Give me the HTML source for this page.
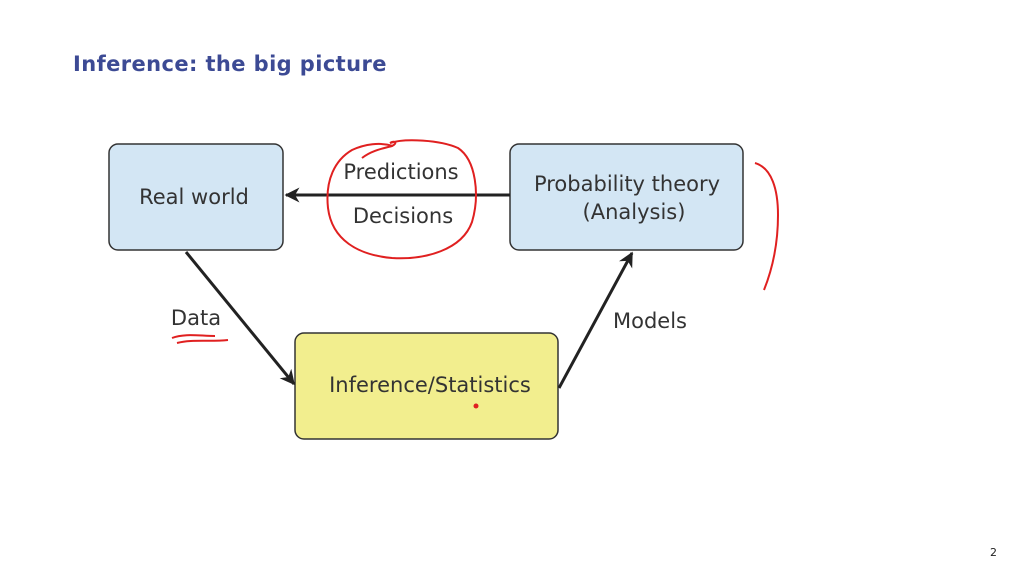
<!DOCTYPE html>
<html><head><meta charset="utf-8"><style>
html,body{margin:0;padding:0;background:#fff;}
svg{display:block;}
text{font-family:"DejaVu Sans","Liberation Sans",sans-serif;}
</style></head><body>
<svg width="1024" height="576" viewBox="0 0 1024 576" xmlns="http://www.w3.org/2000/svg">
<defs>
<marker id="ah" viewBox="0 0 10 10" refX="9" refY="5" markerWidth="5" markerHeight="5" orient="auto">
<path d="M0,0 L10,5 L0,10 L3,5 z" fill="#222"/>
</marker>
</defs>
<rect width="1024" height="576" fill="#fff"/>
<text x="73" y="71" font-size="21" font-weight="bold" fill="#3c4a94" letter-spacing="0.4">Inference:  the big picture</text>

<rect x="109" y="144" width="174" height="106" rx="9" fill="#d3e6f4" stroke="#333" stroke-width="1.5"/>
<text x="194" y="204" font-size="21" fill="#333" text-anchor="middle">Real world</text>

<rect x="510" y="144" width="233" height="106" rx="9" fill="#d3e6f4" stroke="#333" stroke-width="1.5"/>
<text x="627" y="191" font-size="21" fill="#333" text-anchor="middle">Probability theory</text>
<text x="634" y="219" font-size="21" fill="#333" text-anchor="middle">(Analysis)</text>

<rect x="295" y="333" width="263" height="106" rx="9" fill="#f2ee8e" stroke="#333" stroke-width="1.5"/>
<text x="430" y="392" font-size="21" fill="#333" text-anchor="middle">Inference/Statistics</text>

<line x1="510" y1="195" x2="286" y2="195" stroke="#222" stroke-width="3" marker-end="url(#ah)"/>
<line x1="186" y1="252" x2="294" y2="384" stroke="#222" stroke-width="3" marker-end="url(#ah)"/>
<line x1="559" y1="388" x2="632" y2="253" stroke="#222" stroke-width="3" marker-end="url(#ah)"/>

<text x="401" y="179" font-size="21" fill="#333" text-anchor="middle">Predictions</text>
<text x="403" y="223" font-size="21" fill="#333" text-anchor="middle">Decisions</text>
<text x="196" y="325" font-size="21" fill="#333" text-anchor="middle">Data</text>
<text x="650" y="328" font-size="21" fill="#333" text-anchor="middle">Models</text>

<g fill="none" stroke="#e02020" stroke-width="2">
<path d="M362,158 C372,150 385,148 392,146 C398,143 395,140 390,143 C405,138 440,140 458,148 C476,160 480,195 472,222 C462,250 425,260 392,258 C358,255 332,240 328,208 C325,180 335,160 352,150 C365,144 380,142 393,146"/>
<path d="M755,163 C772,168 778,190 778,215 C778,245 772,270 764,290"/>
<path d="M172,338 C185,333 200,336 215,336"/>
<path d="M177,343 C192,339 210,342 228,340"/>
</g>
<circle cx="476" cy="406" r="2.5" fill="#e02020"/>
<text x="990" y="556" font-size="11" fill="#222" font-family="Liberation Sans">2</text>
</svg>
</body></html>
